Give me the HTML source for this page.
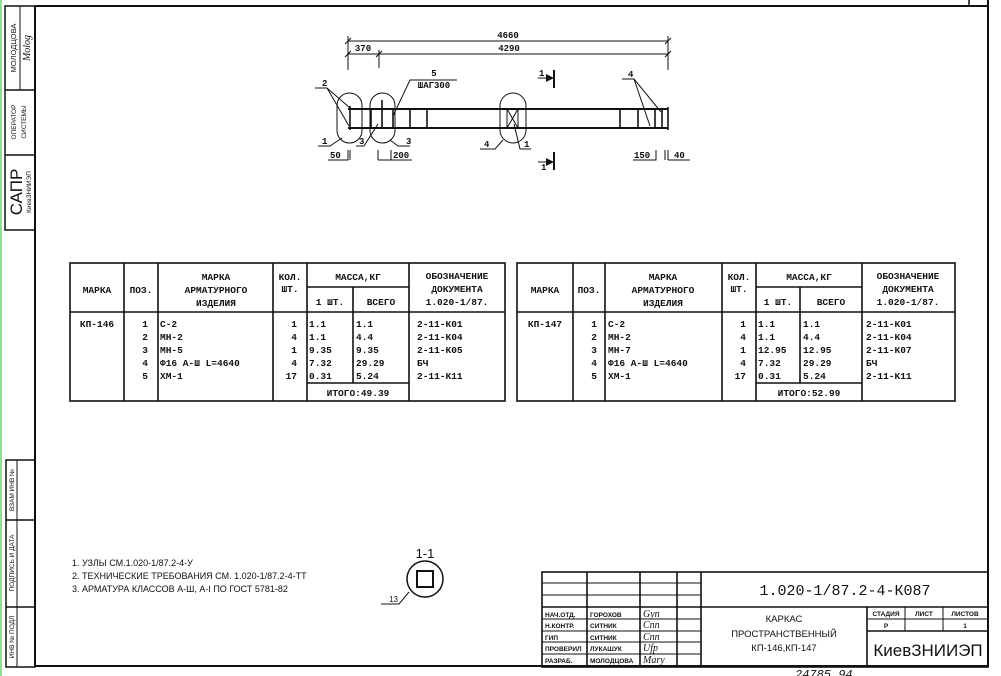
<!DOCTYPE html>
<html><head><meta charset="utf-8"><style>
html,body{margin:0;padding:0;background:#fff}
svg{display:block}
text{font-family:"Liberation Mono","DejaVu Sans Mono",monospace;fill:#111}
.s, .s text{font-family:"Liberation Sans","DejaVu Sans",sans-serif}
.b, .b text{font-weight:bold}
.it text{font-family:"Liberation Serif",serif;font-style:italic}
</style></head><body>
<svg width="1001" height="676" viewBox="0 0 1001 676" xmlns="http://www.w3.org/2000/svg">
<rect width="1001" height="676" fill="#fff"/>
<line x1="1" y1="0" x2="1" y2="676" stroke="#8fe08f" stroke-width="2"/>
<g stroke="#111" fill="none">
<line x1="35" y1="6" x2="988" y2="6" stroke-width="2"/>
<line x1="988" y1="0" x2="988" y2="667" stroke-width="2"/>
<line x1="35" y1="6" x2="35" y2="667" stroke-width="2"/>
<line x1="35" y1="666" x2="988" y2="666" stroke-width="2"/>
<line x1="969" y1="0" x2="969" y2="6" stroke-width="1.5"/>
<rect x="5" y="6" width="30" height="224" stroke-width="1.5"/>
<line x1="5" y1="90" x2="35" y2="90" stroke-width="1.5"/>
<line x1="5" y1="155" x2="35" y2="155" stroke-width="1.5"/>
<line x1="20" y1="6" x2="20" y2="90" stroke-width="1"/>
<rect x="6" y="460" width="29" height="207" stroke-width="1.5"/>
<line x1="6" y1="520" x2="35" y2="520" stroke-width="1.5"/>
<line x1="6" y1="607" x2="35" y2="607" stroke-width="1.5"/>
<line x1="17" y1="460" x2="17" y2="667" stroke-width="1"/>
</g>
<g class="s" font-size="7.5">
<text transform="translate(16,48) rotate(-90)" text-anchor="middle">МОЛОДЦОВА</text>
<text transform="translate(16,122) rotate(-90)" text-anchor="middle" font-size="6.5">ОПЕРАТОР</text>
<text transform="translate(26,122) rotate(-90)" text-anchor="middle" font-size="6.5">СИСТЕМЫ</text>
<text transform="translate(22,192) rotate(-90)" text-anchor="middle" font-size="17">САПР</text>
<text transform="translate(31,192) rotate(-90)" text-anchor="middle" font-size="6.5">КиевЗНИИЭП</text>
<text transform="translate(14,490) rotate(-90)" text-anchor="middle" font-size="6.5">ВЗАМ ИНВ №</text>
<text transform="translate(14,563) rotate(-90)" text-anchor="middle" font-size="6.5">ПОДПИСЬ И ДАТА</text>
<text transform="translate(14,637) rotate(-90)" text-anchor="middle" font-size="6.5">ИНВ № ПОДЛ</text>
</g>
<g class="it"><text transform="translate(30,48) rotate(-90)" text-anchor="middle" font-size="10">Molog</text></g>

<g stroke="#111" fill="none" stroke-width="1">
<line x1="348" y1="41" x2="668" y2="41"/>
<line x1="348" y1="54" x2="668" y2="54"/>
<line x1="348" y1="36" x2="348" y2="70"/>
<line x1="668" y1="36" x2="668" y2="70"/>
<line x1="379" y1="50" x2="379" y2="68"/>
<line x1="345" y1="44" x2="351" y2="38"/><line x1="665" y1="44" x2="671" y2="38"/>
<line x1="345" y1="57" x2="351" y2="51"/><line x1="376" y1="57" x2="382" y2="51"/><line x1="665" y1="57" x2="671" y2="51"/>
<line x1="348" y1="109" x2="668" y2="109" stroke-width="2"/>
<line x1="348" y1="128" x2="668" y2="128" stroke-width="2"/>
<g stroke-width="1.6">
<line x1="350" y1="106" x2="350" y2="130"/><line x1="371" y1="109" x2="371" y2="128"/>
<line x1="382" y1="100" x2="382" y2="128"/><line x1="393" y1="109" x2="393" y2="128"/>
<line x1="410" y1="109" x2="410" y2="128"/><line x1="427" y1="109" x2="427" y2="128"/>
<line x1="620" y1="109" x2="620" y2="128"/><line x1="638" y1="109" x2="638" y2="128"/>
<line x1="655" y1="109" x2="655" y2="128"/><line x1="662" y1="109" x2="662" y2="128"/>
<line x1="668" y1="107" x2="668" y2="130"/>
</g>
<rect x="507" y="109" width="11" height="19"/>
<line x1="507" y1="109" x2="518" y2="128"/><line x1="518" y1="109" x2="507" y2="128"/>
<rect x="337" y="93" width="25" height="50" rx="12.5"/>
<rect x="370" y="93" width="25" height="50" rx="12.5"/>
<rect x="500" y="93" width="26" height="50" rx="13"/>
<polyline points="315,88 327,88 350,108"/><line x1="327" y1="88" x2="349" y2="126"/>
<polyline points="318,146 330,146 342,138"/>
<polyline points="356,146 364,146 378,124"/>
<polyline points="410,146 398,146 390,140"/>
<polyline points="457,80 410,80 393,116"/>
<polyline points="480,149 495,149 503,140"/>
<polyline points="531,149 520,149 514,124"/>
<polyline points="622,79 634,79 650,126"/><line x1="634" y1="79" x2="661" y2="112"/>
<line x1="538" y1="78" x2="548" y2="78"/><line x1="554" y1="70" x2="554" y2="88" stroke-width="2"/>
<line x1="538" y1="162" x2="548" y2="162"/><line x1="554" y1="152" x2="554" y2="170" stroke-width="2"/>
<polyline points="328,160 348,160 348,150"/><line x1="350" y1="150" x2="350" y2="160"/>
<line x1="378" y1="150" x2="378" y2="160"/><polyline points="391,150 391,160 412,160"/><line x1="378" y1="160" x2="391" y2="160"/>
<polyline points="633,160 656,160 656,150"/><line x1="665" y1="150" x2="665" y2="160"/><line x1="668" y1="150" x2="668" y2="160"/><line x1="668" y1="160" x2="690" y2="160"/>
</g>
<polygon points="546,74 554,78 546,82" fill="#111"/>
<polygon points="546,158 554,162 546,166" fill="#111"/>
<g font-size="9" class="b">
<text x="508" y="38" text-anchor="middle">4660</text>
<text x="509" y="51" text-anchor="middle">4290</text>
<text x="363" y="51" text-anchor="middle">370</text>
<text x="434" y="76" text-anchor="middle">5</text>
<text x="434" y="88" text-anchor="middle">ШАГ300</text>
<text x="322" y="86">2</text>
<text x="322" y="144">1</text>
<text x="359" y="144">3</text>
<text x="406" y="144">3</text>
<text x="484" y="147">4</text>
<text x="524" y="147">1</text>
<text x="628" y="77">4</text>
<text x="539" y="76">1</text>
<text x="541" y="170">1</text>
<text x="330" y="158">50</text>
<text x="393" y="158">200</text>
<text x="634" y="158">150</text>
<text x="674" y="158">40</text>
</g>

<g stroke="#111" fill="none" stroke-width="1.6">
<rect x="70" y="263" width="435" height="138"/>
<line x1="70" y1="312" x2="505" y2="312"/>
<line x1="124" y1="263" x2="124" y2="401"/><line x1="158" y1="263" x2="158" y2="401"/>
<line x1="273" y1="263" x2="273" y2="401"/><line x1="307" y1="263" x2="307" y2="401"/>
<line x1="409" y1="263" x2="409" y2="401"/>
<line x1="307" y1="287" x2="409" y2="287"/><line x1="353" y1="287" x2="353" y2="383"/>
<line x1="307" y1="383" x2="409" y2="383"/>
</g>
<g stroke="#111" fill="none" stroke-width="1.6">
<rect x="517" y="263" width="438" height="138"/>
<line x1="517" y1="312" x2="955" y2="312"/>
<line x1="573" y1="263" x2="573" y2="401"/><line x1="605" y1="263" x2="605" y2="401"/>
<line x1="722" y1="263" x2="722" y2="401"/><line x1="756" y1="263" x2="756" y2="401"/>
<line x1="862" y1="263" x2="862" y2="401"/>
<line x1="756" y1="287" x2="862" y2="287"/><line x1="800" y1="287" x2="800" y2="383"/>
<line x1="756" y1="383" x2="862" y2="383"/>
</g>
<g font-size="9.5" class="b">
<text x="97" y="293" text-anchor="middle">МАРКА</text>
<text x="141" y="293" text-anchor="middle">ПОЗ.</text>
<text x="216" y="280" text-anchor="middle">МАРКА</text>
<text x="216" y="293" text-anchor="middle">АРМАТУРНОГО</text>
<text x="216" y="306" text-anchor="middle">ИЗДЕЛИЯ</text>
<text x="290" y="280" text-anchor="middle">КОЛ.</text>
<text x="290" y="292" text-anchor="middle">ШТ.</text>
<text x="358" y="280" text-anchor="middle">МАССА,КГ</text>
<text x="330" y="305" text-anchor="middle">1 ШТ.</text>
<text x="381" y="305" text-anchor="middle">ВСЕГО</text>
<text x="457" y="279" text-anchor="middle">ОБОЗНАЧЕНИЕ</text>
<text x="457" y="292" text-anchor="middle">ДОКУМЕНТА</text>
<text x="457" y="305" text-anchor="middle">1.020-1/87.</text>
<text x="97" y="327" text-anchor="middle">КП-146</text>
<g text-anchor="end"><text x="148" y="327">1</text><text x="148" y="340">2</text><text x="148" y="353">3</text><text x="148" y="366">4</text><text x="148" y="379">5</text>
<text x="297" y="327">1</text><text x="297" y="340">4</text><text x="297" y="353">1</text><text x="297" y="366">4</text><text x="297" y="379">17</text></g>
<text x="160" y="327">С-2</text><text x="160" y="340">МН-2</text><text x="160" y="353">МН-5</text><text x="160" y="366">Ф16 А-Ш L=4640</text><text x="160" y="379">ХМ-1</text>
<text x="309" y="327">1.1</text><text x="309" y="340">1.1</text><text x="309" y="353">9.35</text><text x="309" y="366">7.32</text><text x="309" y="379">0.31</text>
<text x="356" y="327">1.1</text><text x="356" y="340">4.4</text><text x="356" y="353">9.35</text><text x="356" y="366">29.29</text><text x="356" y="379">5.24</text>
<text x="358" y="396" text-anchor="middle">ИТОГО:49.39</text>
<text x="417" y="327">2-11-К01</text><text x="417" y="340">2-11-К04</text><text x="417" y="353">2-11-К05</text><text x="417" y="366">БЧ</text><text x="417" y="379">2-11-К11</text>

<text x="545" y="293" text-anchor="middle">МАРКА</text>
<text x="589" y="293" text-anchor="middle">ПОЗ.</text>
<text x="663" y="280" text-anchor="middle">МАРКА</text>
<text x="663" y="293" text-anchor="middle">АРМАТУРНОГО</text>
<text x="663" y="306" text-anchor="middle">ИЗДЕЛИЯ</text>
<text x="739" y="280" text-anchor="middle">КОЛ.</text>
<text x="739" y="292" text-anchor="middle">ШТ.</text>
<text x="809" y="280" text-anchor="middle">МАССА,КГ</text>
<text x="778" y="305" text-anchor="middle">1 ШТ.</text>
<text x="831" y="305" text-anchor="middle">ВСЕГО</text>
<text x="908" y="279" text-anchor="middle">ОБОЗНАЧЕНИЕ</text>
<text x="908" y="292" text-anchor="middle">ДОКУМЕНТА</text>
<text x="908" y="305" text-anchor="middle">1.020-1/87.</text>
<text x="545" y="327" text-anchor="middle">КП-147</text>
<g text-anchor="end"><text x="597" y="327">1</text><text x="597" y="340">2</text><text x="597" y="353">3</text><text x="597" y="366">4</text><text x="597" y="379">5</text>
<text x="746" y="327">1</text><text x="746" y="340">4</text><text x="746" y="353">1</text><text x="746" y="366">4</text><text x="746" y="379">17</text></g>
<text x="608" y="327">С-2</text><text x="608" y="340">МН-2</text><text x="608" y="353">МН-7</text><text x="608" y="366">Ф16 А-Ш L=4640</text><text x="608" y="379">ХМ-1</text>
<text x="758" y="327">1.1</text><text x="758" y="340">1.1</text><text x="758" y="353">12.95</text><text x="758" y="366">7.32</text><text x="758" y="379">0.31</text>
<text x="803" y="327">1.1</text><text x="803" y="340">4.4</text><text x="803" y="353">12.95</text><text x="803" y="366">29.29</text><text x="803" y="379">5.24</text>
<text x="809" y="396" text-anchor="middle">ИТОГО:52.99</text>
<text x="866" y="327">2-11-К01</text><text x="866" y="340">2-11-К04</text><text x="866" y="353">2-11-К07</text><text x="866" y="366">БЧ</text><text x="866" y="379">2-11-К11</text>
</g>

<g class="s" font-size="9">
<text x="72" y="566">1. УЗЛЫ СМ.1.020-1/87.2-4-У</text>
<text x="72" y="579">2. ТЕХНИЧЕСКИЕ ТРЕБОВАНИЯ СМ. 1.020-1/87.2-4-ТТ</text>
<text x="72" y="592">3. АРМАТУРА КЛАССОВ А-Ш, А-I ПО ГОСТ 5781-82</text>
</g>
<text x="425" y="558" text-anchor="middle" class="s" font-size="13">1-1</text>
<g stroke="#111" fill="none">
<circle cx="425" cy="579" r="18" stroke-width="1.5"/>
<rect x="417" y="571" width="16" height="16" stroke-width="2"/>
<polyline points="381,604 399,604 409,592"/>
</g>
<text x="389" y="602" class="s" font-size="8">13</text>

<g stroke="#111" fill="none" stroke-width="1.6">
<rect x="542" y="572" width="446" height="95"/>
<line x1="587" y1="572" x2="587" y2="667"/><line x1="640" y1="572" x2="640" y2="667"/>
<line x1="677" y1="572" x2="677" y2="667"/><line x1="701" y1="572" x2="701" y2="667"/>
<line x1="542" y1="607" x2="988" y2="607"/>
<line x1="542" y1="583" x2="701" y2="583" stroke-width="1"/><line x1="542" y1="595" x2="701" y2="595" stroke-width="1"/>
<line x1="542" y1="619" x2="701" y2="619" stroke-width="1"/><line x1="542" y1="631" x2="701" y2="631" stroke-width="1"/>
<line x1="542" y1="642" x2="701" y2="642" stroke-width="1"/><line x1="542" y1="654" x2="701" y2="654" stroke-width="1"/>
<line x1="867" y1="607" x2="867" y2="667"/>
<line x1="867" y1="619" x2="988" y2="619" stroke-width="1"/><line x1="867" y1="631" x2="988" y2="631"/>
<line x1="905" y1="607" x2="905" y2="631" stroke-width="1"/><line x1="943" y1="607" x2="943" y2="631" stroke-width="1"/>
</g>
<text x="845" y="595" text-anchor="middle" font-size="15">1.020-1/87.2-4-К087</text>
<g class="s b" font-size="6.5">
<text x="545" y="617">НАЧ.ОТД.</text><text x="590" y="617">ГОРОХОВ</text>
<text x="545" y="628">Н.КОНТР.</text><text x="590" y="628">СИТНИК</text>
<text x="545" y="640">ГИП</text><text x="590" y="640">СИТНИК</text>
<text x="545" y="651">ПРОВЕРИЛ</text><text x="590" y="651">ЛУКАШУК</text>
<text x="545" y="663">РАЗРАБ.</text><text x="590" y="663">МОЛОДЦОВА</text>
<text x="886" y="616" text-anchor="middle">СТАДИЯ</text><text x="924" y="616" text-anchor="middle">ЛИСТ</text><text x="965" y="616" text-anchor="middle">ЛИСТОВ</text>
<text x="886" y="628" text-anchor="middle">Р</text><text x="965" y="628" text-anchor="middle">1</text>
</g>
<g class="s" font-size="9.5" text-anchor="middle">
<text x="784" y="622">КАРКАС</text>
<text x="784" y="637">ПРОСТРАНСТВЕННЫЙ</text>
<text x="784" y="651">КП-146,КП-147</text>
</g>
<text x="928" y="656" text-anchor="middle" class="s" font-size="17">КиевЗНИИЭП</text>
<g class="it" font-size="10" fill="#222">
<text x="643" y="617">Gyn</text><text x="643" y="628">Cnn</text><text x="643" y="640">Cnn</text><text x="643" y="651">Ufp</text><text x="643" y="663">Mary</text>
</g>
<text x="795" y="678" font-size="12" font-style="italic">24785 94</text>
</svg>
</body></html>
